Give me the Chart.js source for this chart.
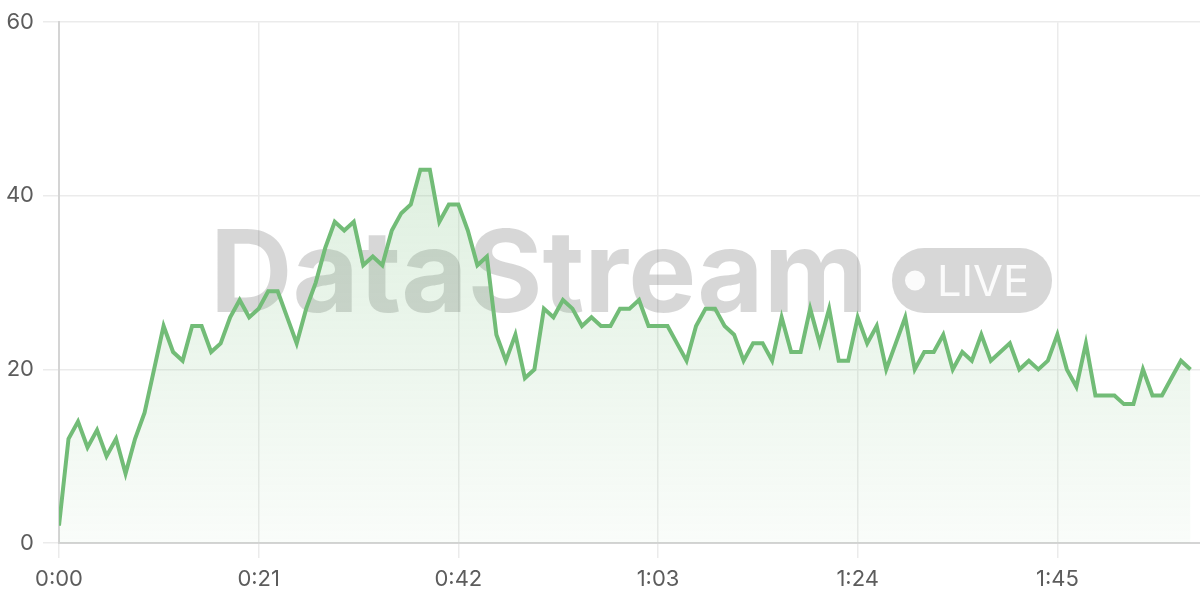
<!DOCTYPE html>
<html><head><meta charset="utf-8">
<script src="https://cdn.jsdelivr.net/npm/chart.js@4/dist/chart.umd.min.js"></script>
<style>html,body{margin:0;padding:0;background:#fff}</style>
</head><body>
<canvas id="c" width="1200" height="600"></canvas>
<script>
// Values per second, 0:00 .. 1:59
const values = [2,12,14,11,13,10,12,8,12,15,20,25,22,21,25,25,22,23,26,28,
26,27,29,29,26,23,27,30,34,37,36,37,32,33,32,36,38,39,43,43,
37,39,39,36,32,33,24,21,24,19,20,27,26,28,27,25,26,25,25,27,
27,28,25,25,25,23,21,25,27,27,25,24,21,23,23,21,26,22,22,27,
23,27,21,21,26,23,25,20,23,26,20,22,22,24,20,22,21,24,21,22,
23,20,21,20,21,24,20,18,23,17,17,17,16,16,20,17,17,19,21,20];
const xTickSeconds = [0,21,42,63,84,105];
const yTickValues = [0,20,40,60];
const xMax = 120;

const FONT = "Inter, 'Liberation Sans', sans-serif";

function fmt(s){ const m = Math.floor(s/60), ss = s%60; return m + ':' + String(ss).padStart(2,'0'); }

const watermark = {
  id:'watermark',
  beforeDatasetsDraw(chart){
    const ctx = chart.ctx;
    ctx.save();
    const gray = 'rgba(0,0,0,0.155)';
    ctx.fillStyle = gray;
    ctx.font = "bold 114px " + FONT;
    ctx.textBaseline = 'alphabetic';
    const txt = 'DataStream';
    const w = ctx.measureText(txt).width;
    const target = 658;
    ctx.translate(210, 312);
    ctx.scale(target/w, 1);
    ctx.fillText(txt, 0, 0);
    ctx.restore();
    // LIVE pill
    ctx.save();
    ctx.fillStyle = gray;
    const x=892,y=248,wd=160,h=65,r=32;
    ctx.beginPath();
    ctx.roundRect(x,y,wd,h,r);
    ctx.fill();
    ctx.fillStyle = 'rgba(255,255,255,0.9)';
    ctx.beginPath();
    ctx.arc(915,280.5,10,0,Math.PI*2);
    ctx.fill();
    ctx.font = "400 43px " + FONT;
    ctx.textBaseline = 'alphabetic';
    const lw = ctx.measureText('LIVE').width;
    ctx.translate(937, 296);
    ctx.scale(92/lw, 1);
    ctx.fillText('LIVE', 0, 0);
    ctx.restore();
  }
};

const ctx = document.getElementById('c').getContext('2d');
new Chart(ctx, {
  type:'line',
  data:{
    datasets:[{
      data: values.map((v,i)=>({x:i, y:v})),
      borderColor:'#72bc77',
      borderWidth:4,
      pointRadius:0,
      tension:0,
      fill:'origin',
      backgroundColor(c){
        const a = c.chart.chartArea;
        if(!a) return 'rgba(114,188,119,0.15)';
        const g = c.chart.ctx.createLinearGradient(0,a.top,0,a.bottom);
        g.addColorStop(0,'rgba(114,188,119,0.30)');
        g.addColorStop(1,'rgba(114,188,119,0.04)');
        return g;
      }
    }]
  },
  options:{
    responsive:false,
    animation:false,
    devicePixelRatio:1,
    layout:{padding:{top:20,right:0,left:0,bottom:0}},
    plugins:{legend:{display:false},tooltip:{enabled:false}},
    scales:{
      x:{
        type:'linear',min:0,max:xMax,
        afterBuildTicks(s){ s.ticks = xTickSeconds.map(v=>({value:v})); },
        afterFit(s){ s.height = 57; },
        grid:{color:'#ebebeb',lineWidth:1.5,tickLength:15,drawTicks:true},
        border:{color:'#d4d4d4',width:2},
        ticks:{color:'#5c5c5c',font:{family:FONT,size:22},padding:8,maxRotation:0,
          callback:(v)=>fmt(v)}
      },
      y:{
        min:0,max:60,
        afterBuildTicks(s){ s.ticks = yTickValues.map(v=>({value:v})); },
        afterFit(s){ s.width = 59; },
        grid:{color:'#ebebeb',lineWidth:1.5,tickLength:16},
        border:{color:'#d4d4d4',width:2},
        ticks:{color:'#5c5c5c',font:{family:FONT,size:22},padding:9}
      }
    }
  },
  plugins:[watermark]
});
</script>
</body></html>
